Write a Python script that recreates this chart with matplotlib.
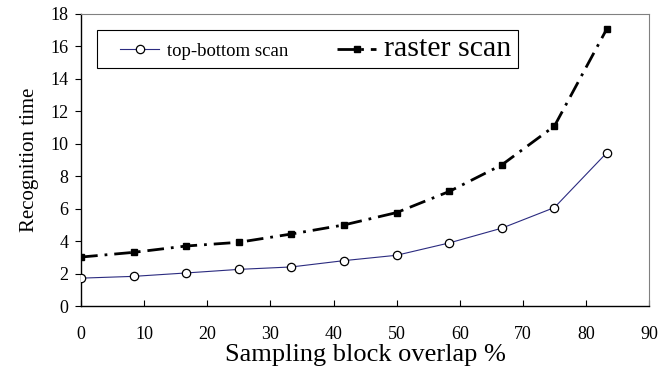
import matplotlib
matplotlib.use("Agg")
import matplotlib.pyplot as plt
from matplotlib.patches import Rectangle

overlap = [0, 8.33, 16.67, 25, 33.33, 41.67, 50, 58.33, 66.67, 75, 83.33]
top_bottom = [1.72, 1.83, 2.04, 2.26, 2.41, 2.80, 3.13, 3.89, 4.80, 6.07, 9.46]
raster = [3.02, 3.31, 3.70, 3.93, 4.44, 5.00, 5.76, 7.06, 8.70, 11.09, 17.10]
xticks = [0, 10, 20, 30, 40, 50, 60, 70, 80, 90]
yticks = [0, 2, 4, 6, 8, 10, 12, 14, 16, 18]

plt.rcParams['font.family'] = ['Liberation Serif', 'DejaVu Serif']

fig = plt.figure(figsize=(6.59, 3.76), dpi=100)
ax = fig.add_axes([0.123, 0.186, 0.862, 0.777])

l1, = ax.plot(overlap, top_bottom, color='#2b2b80', lw=0.8, marker='o', ms=6,
              mfc='white', mec='black', mew=0.9, label='top-bottom scan', zorder=3)
l2, = ax.plot(overlap, raster, color='black', lw=2.0, dashes=(6, 2.5, 1, 2.5), marker='s', ms=4.3,
              mfc='black', mec='black', label='raster scan', zorder=3)

ax.set_xlim(0, 90)
ax.set_ylim(0, 18)
ax.set_xticks(xticks)
ax.set_yticks(yticks)
ax.tick_params(axis='x', direction='in', length=4, pad=14, labelsize=13, width=0.8)
ax.tick_params(axis='y', direction='out', length=4, pad=5, labelsize=13, width=0.8)
for s in ['left', 'bottom']:
    ax.spines[s].set_color('black')
    ax.spines[s].set_linewidth(1.0)
for s in ['top', 'right']:
    ax.spines[s].set_color('#808080')
    ax.spines[s].set_linewidth(0.8)

ax.set_xlabel('Sampling block overlap %', fontsize=19, labelpad=1)
ax.set_ylabel('Recognition time', fontsize=15, labelpad=8)

# legend frame
ax.add_patch(Rectangle((0.028, 0.815), 0.741, 0.13, transform=ax.transAxes,
                       facecolor='white', edgecolor='black', lw=0.8, zorder=4))
leg = ax.legend(loc='center left', bbox_to_anchor=(0.0687, 0.88),
                ncol=2, frameon=False, borderpad=0, borderaxespad=0,
                fontsize=13.5, handlelength=2.08, handletextpad=0.43,
                columnspacing=2.6)
leg.set_zorder(5)
texts = leg.get_texts()
texts[0].set_fontsize(13.5)
texts[1].set_fontsize(21.5)

fig.savefig('out.png', dpi=100)
